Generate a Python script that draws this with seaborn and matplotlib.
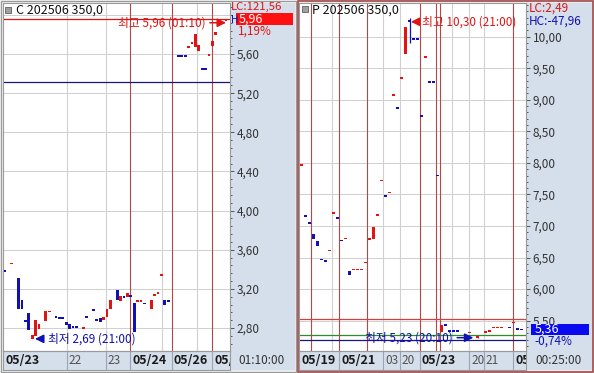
import matplotlib
matplotlib.use("Agg")
import matplotlib.pyplot as plt
import matplotlib.transforms as mtransforms
from matplotlib.patches import Rectangle
from matplotlib.ticker import FixedLocator, MultipleLocator, FuncFormatter
import numpy as np
import pandas as pd
import seaborn as sns

# ---------------- Left panel: C 202506 350,0 ----------------
c_title = "C 202506 350,0"
c_slot = [0, 2, 4, 5, 6, 7, 8, 9, 10, 12,
          13, 15, 16, 17, 18, 19, 20, 21, 23, 24,
          26, 27, 28, 29, 30, 31, 33, 34, 35, 36,
          37, 38, 39, 40, 41, 43, 44, 45, 46, 47,
          48, 51, 52, 53, 54, 55, 56, 57, 58, 59,
          60, 61, 62, 65]
c_open = [3.38, 3.46, 3.31, 3.09, 2.87, 2.95, 2.69, 2.72, 2.79, 2.87,
          2.97, 2.91, 2.90, 2.90, 2.86, 2.84, 2.81, 2.82, 2.80, 2.91,
          3.00, 2.88, 2.90, 2.88, 2.91, 3.00, 3.19, 3.08, 3.12, 3.12,
          3.13, 3.06, 3.08, 3.08, 3.05, 3.00, 3.14, 3.16, 3.34, 3.09,
          3.08, 5.58, 5.58, 5.58, 5.67, 5.71, 5.67, 5.63, 5.45, 5.45,
          5.59, 5.68, 5.79, 5.94]
c_high = [3.38, 3.46, 3.31, 3.09, 2.87, 2.95, 2.73, 2.88, 2.84, 2.97,
          2.97, 2.91, 2.90, 2.90, 2.86, 2.84, 2.81, 2.82, 2.80, 2.91,
          3.00, 2.88, 2.90, 2.91, 3.00, 3.09, 3.19, 3.13, 3.12, 3.16,
          3.13, 3.06, 3.08, 3.08, 3.05, 3.09, 3.14, 3.16, 3.35, 3.09,
          3.08, 5.58, 5.58, 5.58, 5.67, 5.71, 5.80, 5.69, 5.45, 5.45,
          5.59, 5.73, 5.82, 5.96]
c_low = [3.38, 3.46, 2.99, 2.99, 2.87, 2.78, 2.69, 2.72, 2.79, 2.87,
         2.97, 2.91, 2.90, 2.90, 2.83, 2.79, 2.81, 2.80, 2.80, 2.91,
         2.97, 2.88, 2.86, 2.88, 2.91, 3.00, 3.09, 3.08, 3.12, 3.12,
         3.13, 2.76, 3.08, 3.08, 3.05, 3.00, 3.14, 3.16, 3.34, 3.04,
         3.08, 5.58, 5.58, 5.58, 5.67, 5.71, 5.67, 5.63, 5.45, 5.45,
         5.59, 5.68, 5.79, 5.94]
c_close = [3.38, 3.46, 2.99, 2.99, 2.87, 2.78, 2.73, 2.88, 2.84, 2.97,
           2.97, 2.91, 2.90, 2.90, 2.83, 2.79, 2.81, 2.80, 2.80, 2.91,
           2.97, 2.88, 2.86, 2.91, 3.00, 3.09, 3.09, 3.13, 3.12, 3.16,
           3.13, 2.76, 3.08, 3.08, 3.05, 3.09, 3.14, 3.16, 3.34, 3.04,
           3.08, 5.58, 5.58, 5.58, 5.67, 5.71, 5.80, 5.69, 5.45, 5.45,
           5.59, 5.73, 5.82, 5.96]
c_dir = [-1, 1, -1, -1, -1, -1, 1, 1, 1, 1,
         1, -1, -1, -1, -1, -1, -1, -1, 1, -1,
         -1, -1, -1, 1, 1, 1, -1, 1, -1, 1,
         -1, -1, 1, 1, -1, 1, 1, 1, 1, -1,
         -1, -1, -1, -1, 1, 1, 1, 1, -1, -1,
         1, 1, 1, 1]
c_day_breaks = [36.8, 49.1, 60.9]
c_hour_breaks = [18.2, 29.7, 46.2, 56.5]
c_axis_labels = ["05/23", "22", "23", "05/24", "05/26", "05/"]
c_axis_label_pos = [-0.45, 18.2, 29.7, 36.8, 49.1, 60.9]
c_axis_label_bold = [True, False, False, True, True, True]
c_yticks = [2.80, 3.20, 3.60, 4.00, 4.40, 4.80, 5.20, 5.60]
c_extra_grid = [6.00]
c_high_line = 5.96
c_base_line = 5.31
c_last = 5.96
c_change = "1,19%"
c_lc = "LC:121,56"
c_high_time = "01:10"
c_low_time = "21:00"
c_clock = "01:10:00"

# ---------------- Right panel: P 202506 350,0 ----------------
p_title = "P 202506 350,0"
p_slot = [0, 1, 2, 3, 4, 5, 6, 7, 8, 9,
          10, 11, 12, 13, 14, 15, 16, 17, 18, 19,
          20, 21, 22, 23, 24, 25, 26, 27, 28, 29,
          30, 31, 32, 33, 34, 35, 36, 37, 38, 39,
          42, 44, 46, 47, 48, 49, 50, 52, 53, 54,
          55]
p_open = [7.97, 7.16, 7.05, 6.88, 6.76, 6.47, 6.45, 6.61, 7.21, 7.13,
          6.77, 6.80, 6.29, 6.31, 6.31, 6.31, 6.42, 6.79, 6.79, 7.17,
          7.72, 7.48, 7.53, 9.08, 8.87, 9.35, 9.73, 10.27, 9.96, 9.96,
          8.74, 9.68, 9.28, 9.28, 7.80, 5.32, 5.43, 5.34, 5.34, 5.34,
          5.31, 5.24, 5.30, 5.34, 5.39, 5.39, 5.39, 5.39, 5.47, 5.37,
          5.36]
p_high = [7.97, 7.16, 7.05, 6.88, 6.76, 6.47, 6.45, 6.61, 7.21, 7.13,
          6.77, 6.80, 6.29, 6.31, 6.31, 6.31, 6.42, 6.79, 6.98, 7.17,
          7.72, 7.48, 7.53, 9.08, 8.87, 9.35, 10.16, 10.30, 9.96, 9.96,
          8.74, 9.68, 9.28, 9.28, 7.80, 5.43, 5.43, 5.34, 5.34, 5.34,
          5.31, 5.24, 5.34, 5.34, 5.39, 5.39, 5.39, 5.39, 5.47, 5.37,
          5.36]
p_low = [7.97, 7.16, 7.05, 6.79, 6.68, 6.47, 6.45, 6.61, 7.21, 7.13,
         6.77, 6.80, 6.23, 6.31, 6.31, 6.31, 6.42, 6.79, 6.79, 7.17,
         7.72, 7.48, 7.53, 9.08, 8.87, 9.35, 9.73, 9.90, 9.96, 9.96,
         8.74, 9.68, 9.28, 9.28, 7.80, 5.32, 5.43, 5.34, 5.34, 5.34,
         5.31, 5.23, 5.30, 5.34, 5.39, 5.39, 5.39, 5.39, 5.47, 5.37,
         5.36]
p_close = [7.97, 7.16, 7.05, 6.79, 6.68, 6.47, 6.45, 6.61, 7.21, 7.13,
           6.77, 6.80, 6.23, 6.31, 6.31, 6.31, 6.42, 6.79, 6.98, 7.17,
           7.72, 7.48, 7.53, 9.08, 8.87, 9.35, 10.16, 10.24, 9.96, 9.96,
           8.74, 9.68, 9.28, 9.28, 7.80, 5.43, 5.43, 5.34, 5.34, 5.34,
           5.31, 5.24, 5.34, 5.34, 5.39, 5.39, 5.39, 5.39, 5.47, 5.37,
           5.36]
p_dir = [1, -1, -1, -1, -1, -1, -1, 1, 1, -1,
         -1, 1, -1, 1, 1, 1, 1, 1, 1, 1,
         1, -1, 1, 1, -1, 1, 1, -1, -1, -1,
         -1, 1, -1, -1, -1, 1, -1, -1, -1, -1,
         1, 1, 1, 1, 1, 1, 1, -1, 1, -1,
         -1]
p_day_breaks = [2.4, 9.4, 16.4, 29.6, 33.6, 34.6, 52.9]
p_hour_breaks = [7.6, 20.4, 24.6, 37.6, 41.9, 45.6]
p_axis_labels = ["05/19", "05/21", "03", "20", "05/23", "20", "21", "05"]
p_axis_label_pos = [-0.5, 9.4, 20.4, 24.6, 29.6, 41.9, 45.6, 52.9]
p_axis_label_bold = [True, True, False, False, True, False, False, True]
p_yticks = [5.50, 6.00, 6.50, 7.00, 7.50, 8.00, 8.50, 9.00, 9.50, 10.00]
p_ref_red = 5.52
p_ref_green = 5.27
p_ref_navy = 5.19
p_last = 5.36
p_change = "-0,74%"
p_lc = "LC:2,49"
p_hc = "HC:-47,96"
p_high_time = "21:00"
p_low_time = "20:10"
p_clock = "00:25:00"

# ---------------- style ----------------
sns.set_style("white")
plt.rcParams["font.family"] = ["Noto Sans CJK KR", "DejaVu Sans"]

W, H = 594, 373
RED = "#e01414"
BLUE = "#1010b4"
NAVY = "#18187a"
STRIP = "#d5dfeb"
GRID = "#d0d0d0"
DAYC = "#b24848"
TXT = "#333333"

fig = plt.figure(figsize=(W / 100, H / 100), dpi=100, facecolor="#ececec")


def frac(x0, y0, x1, y1):
    return [x0 / W, 1 - y1 / H, (x1 - x0) / W, (y1 - y0) / H]


def fx(px):
    return px / W


def fy(py):
    return 1 - py / H


def fmt(v):
    return f"{v:.2f}".replace(".", ",")


def bg(x0, y0, x1, y1, color, ec="none", lw=0, z=-2):
    fig.patches.append(Rectangle((x0 / W, 1 - y1 / H), (x1 - x0) / W, (y1 - y0) / H,
                                 transform=fig.transFigure, facecolor=color,
                                 edgecolor=ec, linewidth=lw, zorder=z))


def panel(px0, px1, sx1, py0, py1, by1, xlim, ylim, slot, o, h, l, c, d,
          width, yticks, minor_step, day_breaks, hour_breaks,
          lab, lab_pos, lab_bold):
    bg(px1, py0, sx1, by1, STRIP)
    bg(px0, py1, px1, by1, STRIP)
    ax = fig.add_axes(frac(px0, py0, px1, py1))
    ax.set_facecolor("white")
    ax.set_xlim(*xlim)
    ax.set_ylim(*ylim)
    for s in ax.spines.values():
        s.set_color("#9a9a9a")
        s.set_linewidth(0.8)
    ax.set_xticks([])
    ax.yaxis.tick_right()
    ax.yaxis.set_major_locator(FixedLocator(yticks))
    ax.yaxis.set_minor_locator(MultipleLocator(minor_step))
    ax.yaxis.set_major_formatter(FuncFormatter(lambda v, p: fmt(v)))
    ax.tick_params(axis="y", which="both", direction="out", right=True, left=False,
                   labelright=True, labelleft=False, colors="#555555",
                   labelcolor=TXT, labelsize=8.5, pad=1.5)
    ax.tick_params(axis="y", which="major", length=3.2, width=0.7)
    ax.tick_params(axis="y", which="minor", length=1.6, width=0.7)
    ax.set_axisbelow(True)
    ax.grid(axis="y", which="major", color=GRID, lw=0.72)
    for b in hour_breaks:
        ax.axvline(b, color=GRID, lw=0.8, zorder=1)
    for b in day_breaks:
        ax.axvline(b, color=DAYC, lw=0.8, zorder=1)

    df = pd.DataFrame(dict(slot=slot, open=o, high=h, low=l, close=c, dir=d))
    ppu = (py1 - py0) / (ylim[1] - ylim[0])
    minh = 1.7 / ppu
    lo = np.minimum(df.open, df.close).to_numpy()
    hi = np.maximum(df.open, df.close).to_numpy()
    hgt = hi - lo
    small = hgt < minh
    mid = (lo + hi) / 2
    bottom = np.where(small, mid - minh / 2, lo)
    height = np.where(small, minh, hgt)
    colors = np.where(df["dir"].to_numpy() > 0, RED, BLUE)
    wick = ((df.high.to_numpy() > hi) | (df.low.to_numpy() < lo))
    ax.vlines(df.slot[wick], df.low[wick], df.high[wick], colors=colors[wick],
              lw=0.9, zorder=4)
    ax.bar(df.slot, height, bottom=bottom, width=width, color=colors,
           linewidth=0, zorder=5)

    axb = fig.add_axes(frac(px0, py1, px1, by1), sharex=ax)
    axb.set_facecolor("none")
    axb.set_ylim(0, 1)
    axb.tick_params(left=False, bottom=False, labelleft=False, labelbottom=False)
    for s in axb.spines.values():
        s.set_color("#9a9a9a")
        s.set_linewidth(0.8)
    tr = mtransforms.offset_copy(axb.get_xaxis_transform(), fig=fig, x=2, y=0, units="dots")
    for i, (t, pos, bold) in enumerate(zip(lab, lab_pos, lab_bold)):
        if i > 0:
            axb.axvline(pos, color="#9aa4b4", lw=0.8)
        axb.text(pos, 0.48, t, transform=tr, ha="left", va="center",
                 fontsize=9 if bold else 8.5, fontweight="bold" if bold else "normal",
                 color="#1a1a1a" if bold else "#505050", clip_on=True)

    axs = fig.add_axes(frac(px1, py0, sx1, py1), sharey=ax, zorder=3)
    axs.set_facecolor("none")
    axs.set_xlim(0, 1)
    axs.tick_params(left=False, bottom=False, right=False, labelleft=False,
                    labelbottom=False, labelright=False, which="both")
    for s in axs.spines.values():
        s.set_visible(False)
    return ax, axs, ppu


# ---------------- left panel ----------------
axL, axLs, ppuL = panel(3, 230, 295, 3, 351, 370, (-0.59, 66.18), (2.566, 6.121),
                        c_slot, c_open, c_high, c_low, c_close, c_dir, 0.8,
                        c_yticks, 0.08, c_day_breaks, c_hour_breaks,
                        c_axis_labels, c_axis_label_pos, c_axis_label_bold)
for g in c_extra_grid:
    axL.axhline(g, color=GRID, lw=0.72, zorder=0.5)
axL.axhline(c_high_line, color=RED, lw=0.9, zorder=2)
axL.axhline(c_base_line, color=NAVY, lw=0.9, zorder=2)

iH = int(np.argmax(c_high))
iL = int(np.argmin(c_low))
offH = mtransforms.offset_copy(axL.transData, fig=fig, x=0, y=-4, units="dots")
axL.annotate(f"최고 {fmt(c_high[iH])} ({c_high_time})", xy=(c_slot[iH], c_high[iH]),
             xycoords=offH, xytext=(-15, 0), textcoords="offset points",
             ha="right", va="center", color=RED, fontsize=8.5, zorder=7,
             arrowprops=dict(arrowstyle="-|>,head_length=0.6,head_width=0.3",
                             color=RED, lw=1.1, shrinkA=1, shrinkB=0))
axL.annotate(f"최저 {fmt(c_low[iL])} ({c_low_time})", xy=(c_slot[iL], c_low[iL]),
             xytext=(11.5, 0), textcoords="offset points",
             ha="left", va="center", color=BLUE, fontsize=8.5, zorder=7,
             arrowprops=dict(arrowstyle="-|>,head_length=0.6,head_width=0.3",
                             color=BLUE, lw=1.1, shrinkA=1, shrinkB=2))

hL = 12 / ppuL
axLs.add_patch(Rectangle((0.09, c_last - hL / 2), 0.88, hL, facecolor="#ff1010",
                         edgecolor="none", zorder=5, clip_on=False))
axLs.text(0.13, c_last, fmt(c_last), color="white", fontsize=9, va="center",
          ha="left", zorder=6)
trL = mtransforms.offset_copy(axLs.transData, fig=fig, x=0, y=-12, units="dots")
axLs.text(0.12, c_last, c_change, transform=trL, color=RED, fontsize=8.5,
          va="center", ha="left", zorder=6)

fig.patches.append(Rectangle((fx(5), fy(13)), 6 / W, 6 / H, transform=fig.transFigure,
                             facecolor="#a0a0a0", edgecolor="#606060", lw=0.6, zorder=4))
fig.text(fx(16), fy(10), c_title, fontsize=9, color="#111111", va="center", ha="left")
fig.text(fx(231), fy(7), c_lc, fontsize=8.2, color=RED, va="center", ha="left")
fig.text(fx(230.5), fy(20), "H", fontsize=7.5, color=BLUE, va="center", ha="left")
fig.text(fx(238), fy(360), c_clock, fontsize=8.5, color=TXT, va="center", ha="left")

# ---------------- right panel ----------------
axR, axRs, ppuR = panel(299, 526, 592, 3, 351, 370, (-0.625, 56.125), (5.019, 10.534),
                        p_slot, p_open, p_high, p_low, p_close, p_dir, 0.75,
                        p_yticks, 0.1, p_day_breaks, p_hour_breaks,
                        p_axis_labels, p_axis_label_pos, p_axis_label_bold)
axR.axhline(p_ref_red, color="#d04040", lw=0.9, zorder=2)
axR.axhline(p_ref_green, color="#2e8b2e", lw=0.9, zorder=2)
axR.axhline(p_ref_navy, color=NAVY, lw=0.9, zorder=2)

jH = int(np.argmax(p_high))
jL = int(np.argmin(p_low))
offR = mtransforms.offset_copy(axR.transData, fig=fig, x=0, y=-4, units="dots")
axR.annotate(f"최고 {fmt(p_high[jH])} ({p_high_time})", xy=(p_slot[jH], p_high[jH]),
             xycoords=offR, xytext=(9, 0), textcoords="offset points",
             ha="left", va="center", color=RED, fontsize=8.5, zorder=7,
             arrowprops=dict(arrowstyle="-|>,head_length=0.6,head_width=0.3",
                             color=RED, lw=1.1, shrinkA=1, shrinkB=1))
axR.annotate(f"최저 {fmt(p_low[jL])} ({p_low_time})", xy=(p_slot[jL], p_low[jL]),
             xytext=(-18, 0), textcoords="offset points",
             ha="right", va="center", color=BLUE, fontsize=8.5, zorder=7,
             arrowprops=dict(arrowstyle="-|>,head_length=0.6,head_width=0.3",
                             color=BLUE, lw=1.1, shrinkA=1, shrinkB=3))

hR = 11 / ppuR
axRs.add_patch(Rectangle((0.076, p_last - hR / 2), 0.88, hR, facecolor="#0a0af0",
                         edgecolor="none", zorder=5, clip_on=False))
axRs.text(0.13, p_last, fmt(p_last), color="white", fontsize=9, va="center",
          ha="left", zorder=6)
trR = mtransforms.offset_copy(axRs.transData, fig=fig, x=0, y=-12, units="dots")
axRs.text(0.13, p_last, p_change, transform=trR, color=BLUE, fontsize=8.5,
          va="center", ha="left", zorder=6)

fig.patches.append(Rectangle((fx(302), fy(12)), 6 / W, 6 / H, transform=fig.transFigure,
                             facecolor="#a0a0a0", edgecolor="#606060", lw=0.6, zorder=4))
fig.text(fx(312), fy(10), p_title, fontsize=9, color="#111111", va="center", ha="left")
fig.text(fx(529), fy(8), p_lc, fontsize=8.5, color=RED, va="center", ha="left")
fig.text(fx(529), fy(21), p_hc, fontsize=8.5, color=BLUE, va="center", ha="left")
fig.text(fx(535), fy(360), p_clock, fontsize=8.5, color=TXT, va="center", ha="left")

bg(0.5, 0.5, 296, 371.5, "none", ec="#9a9a9a", lw=0.8, z=5)
bg(297.5, 0.5, 593, 371.5, "none", ec="#a04848", lw=1.2, z=5)

fig.savefig("out.png", dpi=100, facecolor=fig.get_facecolor())
